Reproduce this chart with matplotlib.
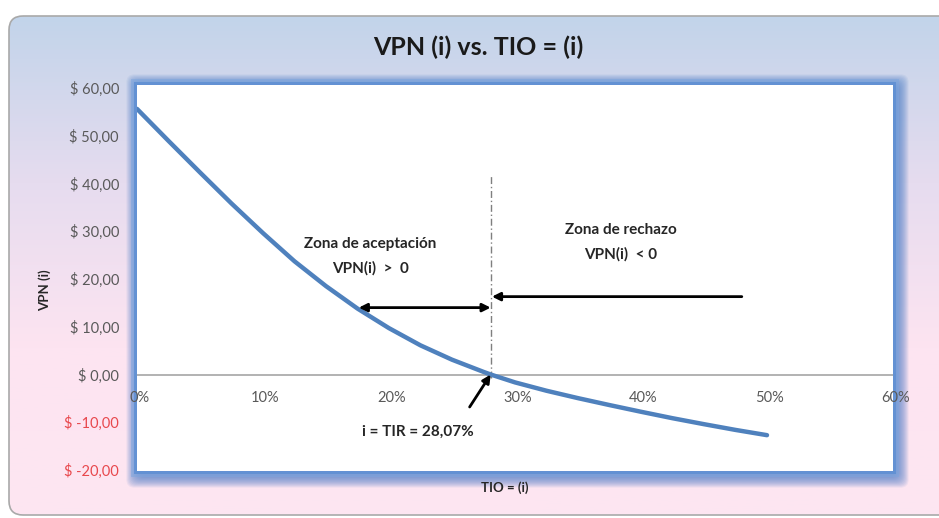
import numpy as np
import matplotlib
matplotlib.use("Agg")
import matplotlib.pyplot as plt
from matplotlib.patches import FancyBboxPatch, Rectangle
from matplotlib.colors import LinearSegmentedColormap

plt.rcParams['font.family'] = ['Lato', 'DejaVu Sans']

# Data
tio = [0, 2.5, 5, 7.5, 10, 12.5, 15, 17.5, 20, 22.5, 25, 27.5, 28.07,
       30, 32.5, 35, 37.5, 40, 42.5, 45, 47.5, 50]            # %
vpn = [55.6, 48.9, 42.3, 35.8, 29.6, 23.7, 18.5, 13.8, 9.7, 6.1, 3.1, 0.55, 0.0,
       -1.65, -3.4, -4.95, -6.4, -7.8, -9.15, -10.4, -11.6, -12.7]
tir = 28.07
y_ticks = [-20, -10, 0, 10, 20, 30, 40, 50, 60]
x_ticks = [0, 10, 20, 30, 40, 50, 60]

W, H = 939, 518
fig = plt.figure(figsize=(W / 100, H / 100), dpi=100)
fig.patch.set_facecolor('white')

# background gradient (blue -> pink) inside rounded frame
bg = fig.add_axes([0, 0, 1, 1], zorder=-10)
bg.set_xlim(0, W); bg.set_ylim(H, 0); bg.axis('off')
cmap = LinearSegmentedColormap.from_list('g', ['#c2d4ea', '#e6dcef', '#fde4f1', '#fde6f2'])
grad = np.linspace(0, 1, 256).reshape(-1, 1)
frame = FancyBboxPatch((9, 16), W + 20, H - 19, boxstyle='round,pad=0,rounding_size=14',
                       facecolor='none', edgecolor='#a9a9a9', linewidth=1.2)
bg.add_patch(frame)
im = bg.imshow(grad, cmap=cmap, aspect='auto', extent=(9, W + 20, H - 3, 16), zorder=0)
im.set_clip_path(frame)

# glow around plot area
x0, x1, y0, y1 = 137, 893, 85, 471
for k in range(14, 0, -1):
    bg.add_patch(FancyBboxPatch((x0 - k * 0.9 + 2, y0 - k * 0.9 + 2),
                                (x1 - x0) + k * 1.8 + 1, (y1 - y0) + k * 1.8 + 2,
                                boxstyle='round,pad=0,rounding_size=8',
                                facecolor='#4f7fc8', edgecolor='none', alpha=0.09, zorder=1))
bg.add_patch(Rectangle((x0 - 6, y0 - 6), (x1 - x0) + 12, (y1 - y0) + 12, facecolor='#7ea6de',
                       edgecolor='none', alpha=0.55, zorder=2))
bg.add_patch(Rectangle((x0 - 3, y0 - 3), (x1 - x0) + 6, (y1 - y0) + 6, facecolor='#5f8fd3',
                       edgecolor='none', alpha=0.85, zorder=2))

ax = fig.add_axes([x0 / W, 1 - y1 / H, (x1 - x0) / W, (y1 - y0) / H])
ax.set_facecolor('white')
ax.set_xlim(0, 60)
ax.set_ylim(-20.2, 60.6)

ax.plot(tio, vpn, color='#4f81bd', lw=3.2, solid_capstyle='round', solid_joinstyle='round', zorder=3)
ax.axhline(0, color='#a6a6a6', lw=1.2, zorder=1)

for s in ['left', 'right', 'top', 'bottom']:
    ax.spines[s].set_visible(False)

ax.set_yticks(y_ticks)
ax.set_yticklabels([f"$ {v:.2f}".replace('.', ',') for v in y_ticks])
for lab, v in zip(ax.get_yticklabels(), y_ticks):
    lab.set_color('#e8484d' if v < 0 else '#595959')
    lab.set_fontsize(10.5)
ax.tick_params(axis='y', length=0, pad=13)

ax.set_xticks([])
for xv in x_ticks:
    ax.text(xv + 0.2, -5.0, f"{xv}%", ha='center', va='center', color='#595959', fontsize=10.5)

# zone annotations
ax.plot([tir, tir], [-0.8, 42], color='#7f7f7f', lw=1, linestyle=(0, (5, 2, 1, 2)), zorder=2)
ax.annotate('', xy=(17.6, 14.0), xytext=(tir, 14.0),
            arrowprops=dict(arrowstyle='<|-|>', color='black', lw=2, mutation_scale=12,
                            shrinkA=0, shrinkB=0))
ax.annotate('', xy=(tir + 0.1, 16.3), xytext=(48.0, 16.3),
            arrowprops=dict(arrowstyle='-|>', color='black', lw=2, mutation_scale=12,
                            shrinkA=0, shrinkB=0))
ax.annotate('', xy=(tir, 0), xytext=(26.4, -6.8),
            arrowprops=dict(arrowstyle='-|>', color='black', lw=2, mutation_scale=12,
                            shrinkA=0, shrinkB=0))

ax.text(18.5, 27.3, 'Zona de aceptación', ha='center', va='center', fontsize=11, fontweight='bold', color='#262626')
ax.text(18.5, 22.2, 'VPN(i)  >  0', ha='center', va='center', fontsize=11, fontweight='bold', color='#262626')
ax.text(38.4, 30.3, 'Zona de rechazo', ha='center', va='center', fontsize=11, fontweight='bold', color='#262626')
ax.text(38.4, 25.2, 'VPN(i)  < 0', ha='center', va='center', fontsize=11, fontweight='bold', color='#262626')
ax.text(22.3, -11.9, 'i = TIR = 28,07%', ha='center', va='center', fontsize=11, fontweight='bold', color='#262626')

fig.text(478 / W, 1 - 47 / H, 'VPN (i) vs. TIO = (i)', ha='center', va='center',
         fontsize=18, fontweight='bold', color='#1a1a1a')
fig.text(45 / W, 1 - 290 / H, 'VPN (i)', ha='center', va='center', rotation=90,
         fontsize=9.5, fontweight='bold', color='#262626')
fig.text(505 / W, 1 - 488 / H, 'TIO = (i)', ha='center', va='center',
         fontsize=9.5, fontweight='bold', color='#262626')

fig.savefig('out.png', dpi=100)
